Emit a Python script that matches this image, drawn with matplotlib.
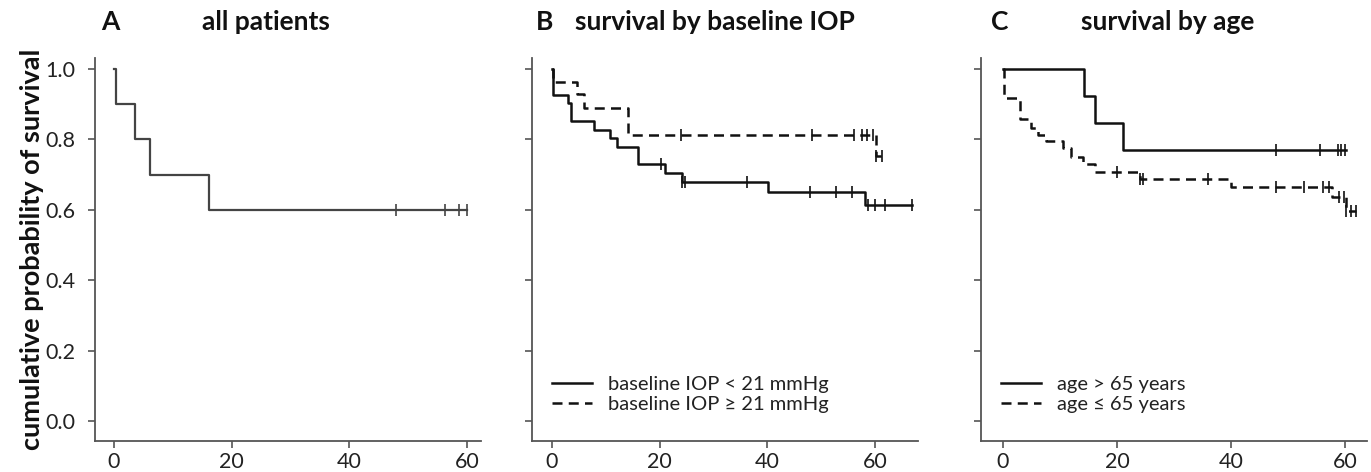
import bisect
import matplotlib
matplotlib.use('Agg')
import matplotlib.pyplot as plt

plt.rcParams['font.family'] = ['Lato', 'DejaVu Sans']

# A: all patients (event times in months, survival after each step)
all_times = [0, 0.3, 3.5, 6.1, 16.2]
all_surv = [1.0, 0.9, 0.8, 0.7, 0.6]
all_censor = [48.0, 56.3, 58.7, 60.0]
all_end = 60.0

# B: baseline IOP
iop_low_times = [0, 0.2, 3.0, 3.5, 7.8, 10.8, 12.1, 16.0, 20.9, 24.1, 40.1, 58.1]
iop_low_surv = [1.0, 0.927, 0.903, 0.853, 0.827, 0.804, 0.779, 0.730, 0.705, 0.679, 0.651, 0.612]
iop_low_censor = [20.3, 24.1, 24.8, 36.2, 48.0, 52.8, 55.7, 58.8, 60.0, 61.9, 66.8]
iop_low_end = 66.8

iop_high_times = [0, 0.2, 4.7, 6.0, 14.2, 60.2]
iop_high_surv = [1.0, 0.962, 0.929, 0.889, 0.813, 0.752]
iop_high_censor = [24.0, 48.3, 56.2, 57.6, 58.5, 59.6, 60.2, 61.3]
iop_high_end = 61.3

# C: age
age_old_times = [0, 14.3, 16.2, 21.0]
age_old_surv = [1.0, 0.923, 0.847, 0.770]
age_old_censor = [47.9, 55.6, 58.8, 59.4, 60.1]
age_old_end = 60.2

age_young_times = [0, 0.1, 3.0, 5.0, 6.2, 7.6, 10.6, 12.0, 14.0, 16.1, 24.0, 40.0, 57.8, 60.2]
age_young_surv = [1.0, 0.918, 0.857, 0.833, 0.812, 0.795, 0.774, 0.750, 0.729, 0.708,
                  0.687, 0.665, 0.636, 0.597]
age_young_censor = [20.0, 24.0, 24.6, 36.0, 47.9, 52.8, 56.2, 57.2, 58.9, 59.8, 60.3, 61.1, 61.9]
age_young_end = 61.9

panel_letters = ['A', 'B', 'C']
panel_titles = ['all patients', 'survival by baseline IOP', 'survival by age']
iop_labels = ['baseline IOP < 21 mmHg', 'baseline IOP \u2265 21 mmHg']
age_labels = ['age > 65 years', 'age \u2264 65 years']
x_ticks = [0, 20, 40, 60]
y_ticks = [0.0, 0.2, 0.4, 0.6, 0.8, 1.0]


def km_curve(ax, times, surv, censor, end, ls='-', color='#111111', lw=1.8, label=None):
    xs = list(times) + [end]
    ys = list(surv) + [surv[-1]]
    line, = ax.step(xs, ys, where='post', color=color, lw=lw, label=label)
    if ls == '--':
        line.set_dashes((4, 2.5))
    cy = [surv[bisect.bisect_right(times, t) - 1] for t in censor]
    ax.plot(censor, cy, ls='none', marker='|', ms=8, mew=1.2, color=color)
    return line


fig = plt.figure(figsize=(13.71, 4.72), dpi=100)
W, H = 1371, 472
lefts = [95, 532, 981]
xlims = [(-3.23, 62.4), (-3.72, 68.0), (-3.86, 63.9)]
axes = []
for left, xl in zip(lefts, xlims):
    ax = fig.add_axes([left / W, 1 - 441 / H, 386 / W, (441 - 58) / H])
    ax.set_xlim(*xl)
    ax.set_ylim(-0.057, 1.031)
    ax.set_xticks(x_ticks)
    ax.set_yticks(y_ticks)
    for s in ['top', 'right']:
        ax.spines[s].set_visible(False)
    for s in ['left', 'bottom']:
        ax.spines[s].set_color('#555555')
        ax.spines[s].set_linewidth(1.3)
    ax.tick_params(direction='out', length=5, width=1.2, color='#555555',
                   labelcolor='#222222', labelsize=15.5, pad=3)
    ax.tick_params(axis='y', pad=9)
    axes.append(ax)

axA, axB, axC = axes
axA.set_yticklabels(['%.1f' % v for v in y_ticks])
axB.set_yticklabels([])
axC.set_yticklabels([])
axA.set_ylabel('cumulative probability of survival', fontsize=19.5, fontweight='bold',
               color='#111111', labelpad=1)

km_curve(axA, all_times, all_surv, all_censor, all_end, color='#444444', lw=1.6)

km_curve(axB, iop_low_times, iop_low_surv, iop_low_censor, iop_low_end, label=iop_labels[0])
km_curve(axB, iop_high_times, iop_high_surv, iop_high_censor, iop_high_end, ls='--', label=iop_labels[1])

km_curve(axC, age_old_times, age_old_surv, age_old_censor, age_old_end, label=age_labels[0])
km_curve(axC, age_young_times, age_young_surv, age_young_censor, age_young_end, ls='--', label=age_labels[1])

for ax in [axB, axC]:
    ax.legend(loc='lower left', bbox_to_anchor=(0.015, 0.035), frameon=False, fontsize=14.5,
              handlelength=2.0, handletextpad=0.8, labelspacing=0.15, borderaxespad=0.3,
              labelcolor='#222222')

# panel letters and titles (pixel positions)
letter_x = [110, 545, 1000]
title_x = [266, 715, 1168]
for lx, tx, letter, title in zip(letter_x, title_x, panel_letters, panel_titles):
    fig.text(lx / W, 1 - 22 / H, letter, fontsize=19, fontweight='bold', ha='center',
             va='center', color='#111111')
    fig.text(tx / W, 1 - 22 / H, title, fontsize=19, fontweight='bold', ha='center',
             va='center', color='#111111')

fig.savefig('out.png', dpi=100)
